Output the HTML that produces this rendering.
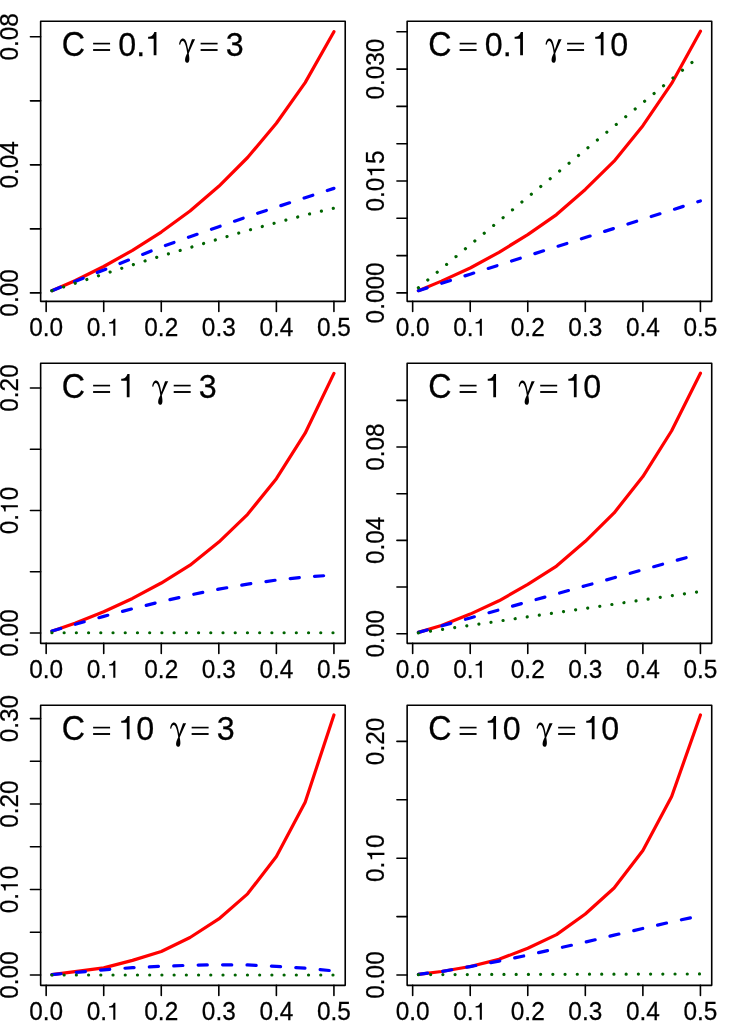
<!DOCTYPE html>
<html lang="en">
<head>
<meta charset="utf-8">
<title>Panels</title>
<style>
html,body{margin:0;padding:0;background:#fff;overflow:hidden;}
svg{display:block;will-change:transform;}
text{font-family:"Liberation Sans",sans-serif;fill:#000;stroke:#000;stroke-width:0.25;}
.k{fill:none;stroke:#000;stroke-width:1.6;stroke-linecap:round;stroke-linejoin:round;}
.e{fill:none;stroke:#000;stroke-width:1.65;stroke-linecap:butt;}
.r{fill:none;stroke:#f00;stroke-width:3.21;stroke-linecap:round;stroke-linejoin:round;}
.b{fill:none;stroke:#00f;stroke-width:3.21;stroke-linecap:round;stroke-linejoin:round;stroke-dasharray:9.16 15.27;}
.g{fill:none;stroke:#006400;stroke-width:3.21;stroke-linecap:round;stroke-linejoin:round;stroke-dasharray:0.01 12.21;}
</style>
</head>
<body>
<svg width="733" height="1026" viewBox="0 0 733 1026">
<rect x="0" y="0" width="733" height="1026" fill="#fff"/>
<g transform="translate(0,0)">
<polyline class="r" points="51.92,290.69 74.94,280.74 103.72,266.49 132.49,250.33 161.27,232.08 190.05,210.95 218.82,186.31 247.6,157.5 276.38,123.25 305.16,82.59 333.93,31.7"/>
<polyline class="b" points="51.92,290.69 74.94,281.47 103.72,269.98 132.49,258.46 161.27,246.93 190.05,236.75 218.82,226.64 247.6,216.62 276.38,207.11 305.16,197.67 333.93,188.36"/>
<polyline class="g" points="51.92,290.69 74.94,283.33 103.72,274.11 132.49,264.89 161.27,255.93 190.05,247.57 218.82,238.93 247.6,230.48 276.38,222.7 305.16,214.99 333.93,208.11"/>
<rect class="k" x="40.64" y="21.29" width="304.58" height="280.08"/>
<path class="k" d="M46.16,301.36 v10.2 M103.72,301.36 v10.2 M161.27,301.36 v10.2 M218.82,301.36 v10.2 M276.38,301.36 v10.2 M333.93,301.36 v10.2 M40.64,292.9 h-10.2 M40.64,228.88 h-10.2 M40.64,164.86 h-10.2 M40.64,100.84 h-10.2 M40.64,36.82 h-10.2"/>
<g transform="translate(29.2,336.4)"><text transform="translate(0,0) scale(1,1.02)" font-size="24.4">0.0</text></g>
<g transform="translate(86.76,336.4)"><text transform="translate(0,0) scale(1,1.02)" font-size="24.4">0.</text><path d="M359,0 L273,0 L273,499 L101,499 L101,560 C196,567 256,589 293,703 L359,703 Z" transform="translate(19.85,-0.6) scale(0.0244,-0.0244)"/></g>
<g transform="translate(144.31,336.4)"><text transform="translate(0,0) scale(1,1.02)" font-size="24.4">0.2</text></g>
<g transform="translate(201.87,336.4)"><text transform="translate(0,0) scale(1,1.02)" font-size="24.4">0.3</text></g>
<g transform="translate(259.42,336.4)"><text transform="translate(0,0) scale(1,1.02)" font-size="24.4">0.4</text></g>
<g transform="translate(316.98,336.4)"><text transform="translate(0,0) scale(1,1.02)" font-size="24.4">0.5</text></g>
<g transform="translate(17.9,292.9) rotate(-90) translate(-23.74,0)"><text transform="translate(0,0) scale(1,1.02)" font-size="24.4">0.00</text></g>
<g transform="translate(17.9,164.86) rotate(-90) translate(-23.74,0)"><text transform="translate(0,0) scale(1,1.02)" font-size="24.4">0.04</text></g>
<g transform="translate(17.9,36.82) rotate(-90) translate(-23.74,0)"><text transform="translate(0,0) scale(1,1.02)" font-size="24.4">0.08</text></g>
<g transform="translate(61.68,55.8)"><text transform="translate(0,0) scale(1,1.1)" font-size="32.25">C</text></g><path class="e" d="M93.12,43.6 h16.96"/><path class="e" style="stroke-width:1.9" d="M93.12,50 h16.96"/><g transform="translate(118.27,55.8)"><text transform="translate(0,0) scale(1,1.05)" font-size="32.25">0.</text><path d="M359,0 L273,0 L273,499 L101,499 L101,560 C196,567 256,589 293,703 L359,703 Z" transform="translate(26.6,-0.5) scale(0.03225,-0.03322)"/></g><path d="M-4,347 C5,454 52,539 117,539 C194,539 236,430 280,181 L396,513 L493,513 C419,359 336,181 295,75 C313,-20 319,-91 313,-127 C307,-186 277,-216 242,-216 C200,-216 176,-174 182,-115 C188,-44 218,27 248,81 C230,240 190,375 155,430 C127,468 84,468 56,420 C43,395 36,368 30,341 Z" transform="translate(179.2,55.8) scale(0.03225,-0.03225)"/><path class="e" d="M200.61,43.6 h16.96"/><path class="e" style="stroke-width:1.9" d="M200.61,50 h16.96"/><g transform="translate(225.76,55.8)"><text transform="translate(0,0) scale(1,1.05)" font-size="32.25">3</text></g>
</g>
<g transform="translate(366.5,0)">
<polyline class="r" points="51.92,290.66 74.94,281.11 103.72,267.98 132.49,252.32 161.27,234.56 190.05,214.57 218.82,189.43 247.6,161.16 276.38,125.65 305.16,83.42 333.93,31.28"/>
<polyline class="b" points="51.92,290.66 74.94,283.34 103.72,274.18 132.49,265.02 161.27,255.86 190.05,246.71 218.82,237.55 247.6,228.39 276.38,219.23 305.16,210.08 333.93,200.92"/>
<polyline class="g" points="51.92,287.83 74.94,268.7 103.72,244.84 132.49,221.02 161.27,197.25 190.05,173.52 218.82,149.84 247.6,126.21 276.38,102.63 305.16,79.08 333.93,55.59"/>
<rect class="k" x="40.64" y="21.29" width="304.58" height="280.08"/>
<path class="k" d="M46.16,301.36 v10.2 M103.72,301.36 v10.2 M161.27,301.36 v10.2 M218.82,301.36 v10.2 M276.38,301.36 v10.2 M333.93,301.36 v10.2 M40.64,292.9 h-10.2 M40.64,255.6 h-10.2 M40.64,218.3 h-10.2 M40.64,181 h-10.2 M40.64,143.7 h-10.2 M40.64,106.4 h-10.2 M40.64,69.1 h-10.2 M40.64,31.8 h-10.2"/>
<g transform="translate(29.2,336.4)"><text transform="translate(0,0) scale(1,1.02)" font-size="24.4">0.0</text></g>
<g transform="translate(86.76,336.4)"><text transform="translate(0,0) scale(1,1.02)" font-size="24.4">0.</text><path d="M359,0 L273,0 L273,499 L101,499 L101,560 C196,567 256,589 293,703 L359,703 Z" transform="translate(19.85,-0.6) scale(0.0244,-0.0244)"/></g>
<g transform="translate(144.31,336.4)"><text transform="translate(0,0) scale(1,1.02)" font-size="24.4">0.2</text></g>
<g transform="translate(201.87,336.4)"><text transform="translate(0,0) scale(1,1.02)" font-size="24.4">0.3</text></g>
<g transform="translate(259.42,336.4)"><text transform="translate(0,0) scale(1,1.02)" font-size="24.4">0.4</text></g>
<g transform="translate(316.98,336.4)"><text transform="translate(0,0) scale(1,1.02)" font-size="24.4">0.5</text></g>
<g transform="translate(17.9,292.9) rotate(-90) translate(-30.52,0)"><text transform="translate(0,0) scale(1,1.02)" font-size="24.4">0.000</text></g>
<g transform="translate(17.9,181) rotate(-90) translate(-30.52,0)"><text transform="translate(0,0) scale(1,1.02)" font-size="24.4">0.0</text><path d="M359,0 L273,0 L273,499 L101,499 L101,560 C196,567 256,589 293,703 L359,703 Z" transform="translate(33.92,0) scale(0.0244,-0.0244)"/><text transform="translate(47.48,0) scale(1,1.02)" font-size="24.4">5</text></g>
<g transform="translate(17.9,69.1) rotate(-90) translate(-30.52,0)"><text transform="translate(0,0) scale(1,1.02)" font-size="24.4">0.030</text></g>
<g transform="translate(61.68,55.8)"><text transform="translate(0,0) scale(1,1.1)" font-size="32.25">C</text></g><path class="e" d="M93.12,43.6 h16.96"/><path class="e" style="stroke-width:1.9" d="M93.12,50 h16.96"/><g transform="translate(118.27,55.8)"><text transform="translate(0,0) scale(1,1.05)" font-size="32.25">0.</text><path d="M359,0 L273,0 L273,499 L101,499 L101,560 C196,567 256,589 293,703 L359,703 Z" transform="translate(26.6,-0.5) scale(0.03225,-0.03322)"/></g><path d="M-4,347 C5,454 52,539 117,539 C194,539 236,430 280,181 L396,513 L493,513 C419,359 336,181 295,75 C313,-20 319,-91 313,-127 C307,-186 277,-216 242,-216 C200,-216 176,-174 182,-115 C188,-44 218,27 248,81 C230,240 190,375 155,430 C127,468 84,468 56,420 C43,395 36,368 30,341 Z" transform="translate(179.2,55.8) scale(0.03225,-0.03225)"/><path class="e" d="M200.61,43.6 h16.96"/><path class="e" style="stroke-width:1.9" d="M200.61,50 h16.96"/><g transform="translate(225.76,55.8)"><path d="M359,0 L273,0 L273,499 L101,499 L101,560 C196,567 256,589 293,703 L359,703 Z" transform="translate(-0.3,-0.5) scale(0.03225,-0.03322)"/><text transform="translate(17.93,0) scale(1,1.05)" font-size="32.25">0</text></g>
</g>
<g transform="translate(0,342)">
<polyline class="r" points="51.92,289.16 74.94,281.2 103.72,269.69 132.49,256.45 161.27,241.02 190.05,223.13 218.82,200.11 247.6,172.3 276.38,136.65 305.16,91.2 333.93,31.42"/>
<polyline class="b" points="51.92,289.04 74.94,282.43 103.72,274.34 132.49,266.75 161.27,259.64 190.05,253.03 218.82,247.15 247.6,242.12 276.38,238.08 305.16,235.02 333.93,233.06"/>
<polyline class="g" points="51.92,290.75 74.94,290.75 103.72,290.75 132.49,290.75 161.27,290.75 190.05,290.75 218.82,290.75 247.6,290.75 276.38,290.75 305.16,290.75 333.93,290.75"/>
<rect class="k" x="40.64" y="21.29" width="304.58" height="280.08"/>
<path class="k" d="M46.16,301.36 v10.2 M103.72,301.36 v10.2 M161.27,301.36 v10.2 M218.82,301.36 v10.2 M276.38,301.36 v10.2 M333.93,301.36 v10.2 M40.64,291 h-10.2 M40.64,229.75 h-10.2 M40.64,168.5 h-10.2 M40.64,107.25 h-10.2 M40.64,46 h-10.2"/>
<g transform="translate(29.2,336.4)"><text transform="translate(0,0) scale(1,1.02)" font-size="24.4">0.0</text></g>
<g transform="translate(86.76,336.4)"><text transform="translate(0,0) scale(1,1.02)" font-size="24.4">0.</text><path d="M359,0 L273,0 L273,499 L101,499 L101,560 C196,567 256,589 293,703 L359,703 Z" transform="translate(19.85,-0.6) scale(0.0244,-0.0244)"/></g>
<g transform="translate(144.31,336.4)"><text transform="translate(0,0) scale(1,1.02)" font-size="24.4">0.2</text></g>
<g transform="translate(201.87,336.4)"><text transform="translate(0,0) scale(1,1.02)" font-size="24.4">0.3</text></g>
<g transform="translate(259.42,336.4)"><text transform="translate(0,0) scale(1,1.02)" font-size="24.4">0.4</text></g>
<g transform="translate(316.98,336.4)"><text transform="translate(0,0) scale(1,1.02)" font-size="24.4">0.5</text></g>
<g transform="translate(17.9,291) rotate(-90) translate(-23.74,0)"><text transform="translate(0,0) scale(1,1.02)" font-size="24.4">0.00</text></g>
<g transform="translate(17.9,168.5) rotate(-90) translate(-23.74,0)"><text transform="translate(0,0) scale(1,1.02)" font-size="24.4">0.</text><path d="M359,0 L273,0 L273,499 L101,499 L101,560 C196,567 256,589 293,703 L359,703 Z" transform="translate(20.35,0) scale(0.0244,-0.0244)"/><text transform="translate(33.92,0) scale(1,1.02)" font-size="24.4">0</text></g>
<g transform="translate(17.9,46) rotate(-90) translate(-23.74,0)"><text transform="translate(0,0) scale(1,1.02)" font-size="24.4">0.20</text></g>
<g transform="translate(61.68,55.8)"><text transform="translate(0,0) scale(1,1.1)" font-size="32.25">C</text></g><path class="e" d="M93.12,43.6 h16.96"/><path class="e" style="stroke-width:1.9" d="M93.12,50 h16.96"/><g transform="translate(118.27,55.8)"><path d="M359,0 L273,0 L273,499 L101,499 L101,560 C196,567 256,589 293,703 L359,703 Z" transform="translate(-0.3,-0.5) scale(0.03225,-0.03322)"/></g><path d="M-4,347 C5,454 52,539 117,539 C194,539 236,430 280,181 L396,513 L493,513 C419,359 336,181 295,75 C313,-20 319,-91 313,-127 C307,-186 277,-216 242,-216 C200,-216 176,-174 182,-115 C188,-44 218,27 248,81 C230,240 190,375 155,430 C127,468 84,468 56,420 C43,395 36,368 30,341 Z" transform="translate(152.3,55.8) scale(0.03225,-0.03225)"/><path class="e" d="M173.71,43.6 h16.96"/><path class="e" style="stroke-width:1.9" d="M173.71,50 h16.96"/><g transform="translate(198.86,55.8)"><text transform="translate(0,0) scale(1,1.05)" font-size="32.25">3</text></g>
</g>
<g transform="translate(366.5,342)">
<polyline class="r" points="51.92,290.39 74.94,283.44 103.72,272.1 132.49,258.8 161.27,242.47 190.05,224.04 218.82,199.31 247.6,170.92 276.38,134.6 305.16,88.73 333.93,31.22"/>
<polyline class="b" points="51.92,290.39 74.94,283.97 103.72,275.94 132.49,267.9 161.27,259.87 190.05,251.84 218.82,243.81 247.6,235.77 276.38,227.74 305.16,219.71 333.93,211.68"/>
<polyline class="g" points="51.92,290.95 74.94,287.57 103.72,283.33 132.49,279.1 161.27,274.87 190.05,270.64 218.82,266.4 247.6,262.17 276.38,257.94 305.16,253.71 333.93,249.47"/>
<rect class="k" x="40.64" y="21.29" width="304.58" height="280.08"/>
<path class="k" d="M46.16,301.36 v10.2 M103.72,301.36 v10.2 M161.27,301.36 v10.2 M218.82,301.36 v10.2 M276.38,301.36 v10.2 M333.93,301.36 v10.2 M40.64,291.7 h-10.2 M40.64,245.04 h-10.2 M40.64,198.38 h-10.2 M40.64,151.72 h-10.2 M40.64,105.06 h-10.2 M40.64,58.4 h-10.2"/>
<g transform="translate(29.2,336.4)"><text transform="translate(0,0) scale(1,1.02)" font-size="24.4">0.0</text></g>
<g transform="translate(86.76,336.4)"><text transform="translate(0,0) scale(1,1.02)" font-size="24.4">0.</text><path d="M359,0 L273,0 L273,499 L101,499 L101,560 C196,567 256,589 293,703 L359,703 Z" transform="translate(19.85,-0.6) scale(0.0244,-0.0244)"/></g>
<g transform="translate(144.31,336.4)"><text transform="translate(0,0) scale(1,1.02)" font-size="24.4">0.2</text></g>
<g transform="translate(201.87,336.4)"><text transform="translate(0,0) scale(1,1.02)" font-size="24.4">0.3</text></g>
<g transform="translate(259.42,336.4)"><text transform="translate(0,0) scale(1,1.02)" font-size="24.4">0.4</text></g>
<g transform="translate(316.98,336.4)"><text transform="translate(0,0) scale(1,1.02)" font-size="24.4">0.5</text></g>
<g transform="translate(17.9,291.7) rotate(-90) translate(-23.74,0)"><text transform="translate(0,0) scale(1,1.02)" font-size="24.4">0.00</text></g>
<g transform="translate(17.9,198.38) rotate(-90) translate(-23.74,0)"><text transform="translate(0,0) scale(1,1.02)" font-size="24.4">0.04</text></g>
<g transform="translate(17.9,105.06) rotate(-90) translate(-23.74,0)"><text transform="translate(0,0) scale(1,1.02)" font-size="24.4">0.08</text></g>
<g transform="translate(61.68,55.8)"><text transform="translate(0,0) scale(1,1.1)" font-size="32.25">C</text></g><path class="e" d="M93.12,43.6 h16.96"/><path class="e" style="stroke-width:1.9" d="M93.12,50 h16.96"/><g transform="translate(118.27,55.8)"><path d="M359,0 L273,0 L273,499 L101,499 L101,560 C196,567 256,589 293,703 L359,703 Z" transform="translate(-0.3,-0.5) scale(0.03225,-0.03322)"/></g><path d="M-4,347 C5,454 52,539 117,539 C194,539 236,430 280,181 L396,513 L493,513 C419,359 336,181 295,75 C313,-20 319,-91 313,-127 C307,-186 277,-216 242,-216 C200,-216 176,-174 182,-115 C188,-44 218,27 248,81 C230,240 190,375 155,430 C127,468 84,468 56,420 C43,395 36,368 30,341 Z" transform="translate(152.3,55.8) scale(0.03225,-0.03225)"/><path class="e" d="M173.71,43.6 h16.96"/><path class="e" style="stroke-width:1.9" d="M173.71,50 h16.96"/><g transform="translate(198.86,55.8)"><path d="M359,0 L273,0 L273,499 L101,499 L101,560 C196,567 256,589 293,703 L359,703 Z" transform="translate(-0.3,-0.5) scale(0.03225,-0.03322)"/><text transform="translate(17.93,0) scale(1,1.05)" font-size="32.25">0</text></g>
</g>
<g transform="translate(0,684)">
<polyline class="r" points="51.92,290.57 74.94,287.67 103.72,283.85 132.49,276.4 161.27,267.44 190.05,253.52 218.82,234.93 247.6,209.85 276.38,172.6 305.16,118.18 333.93,31"/>
<polyline class="b" points="51.92,290.57 74.94,288.52 103.72,285.9 132.49,283.65 161.27,282.31 190.05,281.21 218.82,280.81 247.6,280.95 276.38,282.38 305.16,284.15 333.93,286.95"/>
<polyline class="g" points="51.92,291 74.94,291 103.72,291 132.49,291 161.27,291 190.05,291 218.82,291 247.6,291 276.38,291 305.16,291 333.93,291"/>
<rect class="k" x="40.64" y="21.29" width="304.58" height="280.08"/>
<path class="k" d="M46.16,301.36 v10.2 M103.72,301.36 v10.2 M161.27,301.36 v10.2 M218.82,301.36 v10.2 M276.38,301.36 v10.2 M333.93,301.36 v10.2 M40.64,291 h-10.2 M40.64,248.26 h-10.2 M40.64,205.53 h-10.2 M40.64,162.79 h-10.2 M40.64,120.06 h-10.2 M40.64,77.32 h-10.2 M40.64,34.59 h-10.2"/>
<g transform="translate(29.2,336.4)"><text transform="translate(0,0) scale(1,1.02)" font-size="24.4">0.0</text></g>
<g transform="translate(86.76,336.4)"><text transform="translate(0,0) scale(1,1.02)" font-size="24.4">0.</text><path d="M359,0 L273,0 L273,499 L101,499 L101,560 C196,567 256,589 293,703 L359,703 Z" transform="translate(19.85,-0.6) scale(0.0244,-0.0244)"/></g>
<g transform="translate(144.31,336.4)"><text transform="translate(0,0) scale(1,1.02)" font-size="24.4">0.2</text></g>
<g transform="translate(201.87,336.4)"><text transform="translate(0,0) scale(1,1.02)" font-size="24.4">0.3</text></g>
<g transform="translate(259.42,336.4)"><text transform="translate(0,0) scale(1,1.02)" font-size="24.4">0.4</text></g>
<g transform="translate(316.98,336.4)"><text transform="translate(0,0) scale(1,1.02)" font-size="24.4">0.5</text></g>
<g transform="translate(17.9,291) rotate(-90) translate(-23.74,0)"><text transform="translate(0,0) scale(1,1.02)" font-size="24.4">0.00</text></g>
<g transform="translate(17.9,205.53) rotate(-90) translate(-23.74,0)"><text transform="translate(0,0) scale(1,1.02)" font-size="24.4">0.</text><path d="M359,0 L273,0 L273,499 L101,499 L101,560 C196,567 256,589 293,703 L359,703 Z" transform="translate(20.35,0) scale(0.0244,-0.0244)"/><text transform="translate(33.92,0) scale(1,1.02)" font-size="24.4">0</text></g>
<g transform="translate(17.9,120.06) rotate(-90) translate(-23.74,0)"><text transform="translate(0,0) scale(1,1.02)" font-size="24.4">0.20</text></g>
<g transform="translate(17.9,34.59) rotate(-90) translate(-23.74,0)"><text transform="translate(0,0) scale(1,1.02)" font-size="24.4">0.30</text></g>
<g transform="translate(61.68,55.8)"><text transform="translate(0,0) scale(1,1.1)" font-size="32.25">C</text></g><path class="e" d="M93.12,43.6 h16.96"/><path class="e" style="stroke-width:1.9" d="M93.12,50 h16.96"/><g transform="translate(118.27,55.8)"><path d="M359,0 L273,0 L273,499 L101,499 L101,560 C196,567 256,589 293,703 L359,703 Z" transform="translate(-0.3,-0.5) scale(0.03225,-0.03322)"/><text transform="translate(17.93,0) scale(1,1.05)" font-size="32.25">0</text></g><path d="M-4,347 C5,454 52,539 117,539 C194,539 236,430 280,181 L396,513 L493,513 C419,359 336,181 295,75 C313,-20 319,-91 313,-127 C307,-186 277,-216 242,-216 C200,-216 176,-174 182,-115 C188,-44 218,27 248,81 C230,240 190,375 155,430 C127,468 84,468 56,420 C43,395 36,368 30,341 Z" transform="translate(170.23,55.8) scale(0.03225,-0.03225)"/><path class="e" d="M191.64,43.6 h16.96"/><path class="e" style="stroke-width:1.9" d="M191.64,50 h16.96"/><g transform="translate(216.79,55.8)"><text transform="translate(0,0) scale(1,1.05)" font-size="32.25">3</text></g>
</g>
<g transform="translate(366.5,684)">
<polyline class="r" points="51.92,290.3 74.94,287.53 103.72,282.49 132.49,275.33 161.27,264.22 190.05,250.58 218.82,229.97 247.6,204 276.38,166.48 305.16,112.41 333.93,31"/>
<polyline class="b" points="51.92,290.3 74.94,287.53 103.72,282.59 132.49,277.1 161.27,271.12 190.05,264.57 218.82,258.14 247.6,251.17 276.38,244.44 305.16,237.88 333.93,231.63"/>
<polyline class="g" points="51.92,290.65 74.94,290.59 103.72,290.52 132.49,290.45 161.27,290.38 190.05,290.31 218.82,290.23 247.6,290.16 276.38,290.09 305.16,290.02 333.93,289.95"/>
<rect class="k" x="40.64" y="21.29" width="304.58" height="280.08"/>
<path class="k" d="M46.16,301.36 v10.2 M103.72,301.36 v10.2 M161.27,301.36 v10.2 M218.82,301.36 v10.2 M276.38,301.36 v10.2 M333.93,301.36 v10.2 M40.64,291 h-10.2 M40.64,232.6 h-10.2 M40.64,174.2 h-10.2 M40.64,115.8 h-10.2 M40.64,57.4 h-10.2"/>
<g transform="translate(29.2,336.4)"><text transform="translate(0,0) scale(1,1.02)" font-size="24.4">0.0</text></g>
<g transform="translate(86.76,336.4)"><text transform="translate(0,0) scale(1,1.02)" font-size="24.4">0.</text><path d="M359,0 L273,0 L273,499 L101,499 L101,560 C196,567 256,589 293,703 L359,703 Z" transform="translate(19.85,-0.6) scale(0.0244,-0.0244)"/></g>
<g transform="translate(144.31,336.4)"><text transform="translate(0,0) scale(1,1.02)" font-size="24.4">0.2</text></g>
<g transform="translate(201.87,336.4)"><text transform="translate(0,0) scale(1,1.02)" font-size="24.4">0.3</text></g>
<g transform="translate(259.42,336.4)"><text transform="translate(0,0) scale(1,1.02)" font-size="24.4">0.4</text></g>
<g transform="translate(316.98,336.4)"><text transform="translate(0,0) scale(1,1.02)" font-size="24.4">0.5</text></g>
<g transform="translate(17.9,291) rotate(-90) translate(-23.74,0)"><text transform="translate(0,0) scale(1,1.02)" font-size="24.4">0.00</text></g>
<g transform="translate(17.9,174.2) rotate(-90) translate(-23.74,0)"><text transform="translate(0,0) scale(1,1.02)" font-size="24.4">0.</text><path d="M359,0 L273,0 L273,499 L101,499 L101,560 C196,567 256,589 293,703 L359,703 Z" transform="translate(20.35,0) scale(0.0244,-0.0244)"/><text transform="translate(33.92,0) scale(1,1.02)" font-size="24.4">0</text></g>
<g transform="translate(17.9,57.4) rotate(-90) translate(-23.74,0)"><text transform="translate(0,0) scale(1,1.02)" font-size="24.4">0.20</text></g>
<g transform="translate(61.68,55.8)"><text transform="translate(0,0) scale(1,1.1)" font-size="32.25">C</text></g><path class="e" d="M93.12,43.6 h16.96"/><path class="e" style="stroke-width:1.9" d="M93.12,50 h16.96"/><g transform="translate(118.27,55.8)"><path d="M359,0 L273,0 L273,499 L101,499 L101,560 C196,567 256,589 293,703 L359,703 Z" transform="translate(-0.3,-0.5) scale(0.03225,-0.03322)"/><text transform="translate(17.93,0) scale(1,1.05)" font-size="32.25">0</text></g><path d="M-4,347 C5,454 52,539 117,539 C194,539 236,430 280,181 L396,513 L493,513 C419,359 336,181 295,75 C313,-20 319,-91 313,-127 C307,-186 277,-216 242,-216 C200,-216 176,-174 182,-115 C188,-44 218,27 248,81 C230,240 190,375 155,430 C127,468 84,468 56,420 C43,395 36,368 30,341 Z" transform="translate(170.23,55.8) scale(0.03225,-0.03225)"/><path class="e" d="M191.64,43.6 h16.96"/><path class="e" style="stroke-width:1.9" d="M191.64,50 h16.96"/><g transform="translate(216.79,55.8)"><path d="M359,0 L273,0 L273,499 L101,499 L101,560 C196,567 256,589 293,703 L359,703 Z" transform="translate(-0.3,-0.5) scale(0.03225,-0.03322)"/><text transform="translate(17.93,0) scale(1,1.05)" font-size="32.25">0</text></g>
</g>
</svg>
</body>
</html>
